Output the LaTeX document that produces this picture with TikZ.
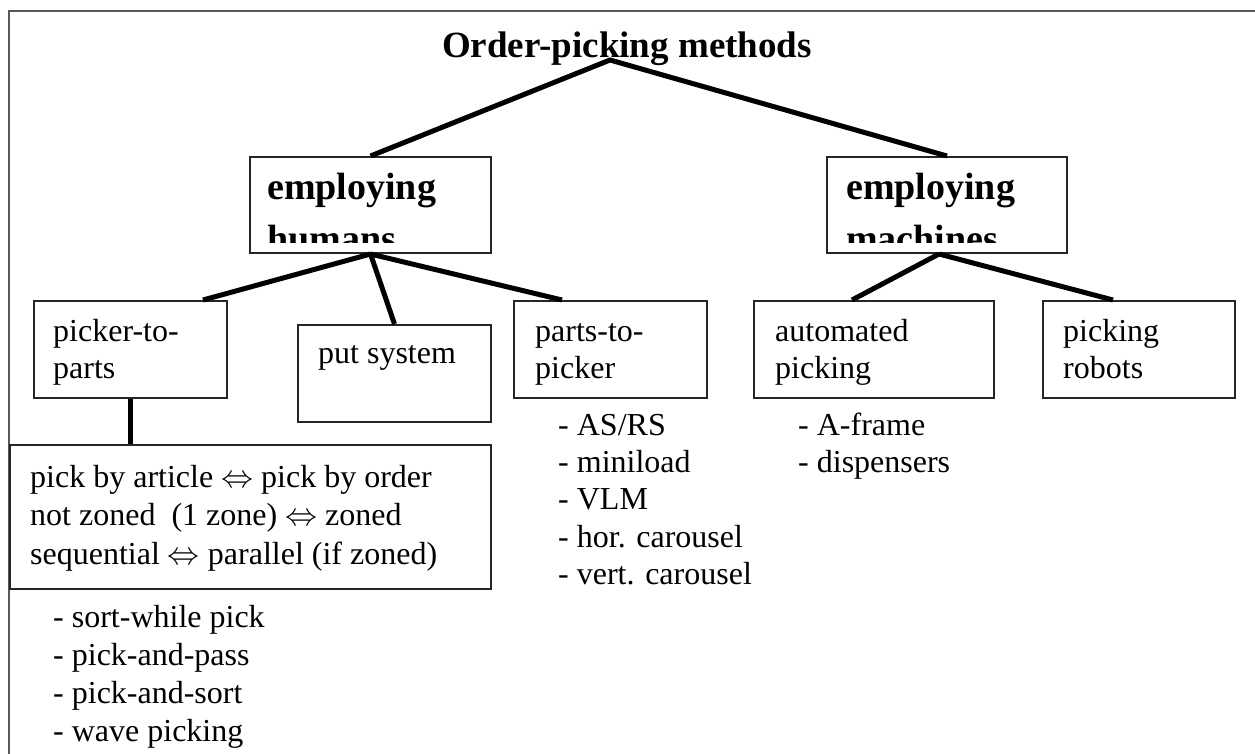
\RequirePackage{fix-cm}
\documentclass[tikz,border=0pt]{standalone}
\usepackage{fontspec}
\setmainfont{Liberation Serif}
\usetikzlibrary{calc}
\definecolor{boxcol}{gray}{0.15}
\definecolor{framecol}{gray}{0.35}
\tikzset{
  box/.style={draw=boxcol, line width=2pt, inner sep=0pt, rectangle, anchor=north west},
  conn/.style={line width=5pt, draw=black},
  frameline/.style={line width=2pt, draw=framecol},
  txt/.style={anchor=base west, inner sep=0pt, font=\fontsize{32}{38}\selectfont},
  btxt/.style={anchor=base west, inner sep=0pt, font=\fontsize{38}{46}\selectfont\bfseries},
}
\begin{document}
\begin{tikzpicture}[x=1pt, y=-1pt]
\useasboundingbox (0,0) rectangle (1255,754);
% outer frame (left and top edges)
\draw[frameline] (9,754) -- (9,11) -- (1255,11);

% title
\node[btxt, anchor=base, font=\fontsize{37}{44}\selectfont\bfseries] (title) at (627,58) {Order-picking methods};
\coordinate (apex) at (610,60);

% boxes
\node[box, minimum width=241pt, minimum height=96pt] (eh) at (249,156) {};
\node[box, minimum width=240pt, minimum height=96pt] (em) at (826,156) {};
\node[box, minimum width=193pt, minimum height=97pt] (ptp) at (33,300) {};
\node[box, minimum width=193pt, minimum height=97pt] (ps) at (297,324) {};
\node[box, minimum width=193pt, minimum height=97pt] (pkr) at (513,300) {};
\node[box, minimum width=240pt, minimum height=97pt] (ap) at (753,300) {};
\node[box, minimum width=192pt, minimum height=97pt] (pr) at (1042,300) {};
\node[box, minimum width=481pt, minimum height=144pt] (zb) at (9,444) {};

% clipped bold texts
\begin{scope}
  \clip (249,156) rectangle (490,242);
  \node[btxt] (eh1) at (267,200) {employing};
  \node[btxt] (eh2) at (267,251) {humans};
\end{scope}
\begin{scope}
  \clip (826,156) rectangle (1066,242);
  \node[btxt] (em1) at (846,200) {employing};
  \node[btxt] (em2) at (846,251) {machines};
\end{scope}

% box texts
\node[txt] (ptp1) at (53,341) {picker-to-};
\node[txt] (ptp2) at (53,378) {parts};
\node[txt] (ps1) at (318,363) {put system};
\node[txt] (pkr1) at (535,341) {parts-to-};
\node[txt] (pkr2) at (535,378) {picker};
\node[txt] (ap1) at (775,341) {automated};
\node[txt] (ap2) at (775,378) {picking};
\node[txt] (pr1) at (1063,341) {picking};
\node[txt] (pr2) at (1063,378) {robots};

\node[txt] (zb1) at (30,487) {pick by article $\Leftrightarrow$ pick by order};
\node[txt] (zb2) at (30,525.5) {not zoned\ \ (1 zone) $\Leftrightarrow$ zoned};
\node[txt] (zb3) at (30,564) {sequential $\Leftrightarrow$ parallel (if zoned)};

% lists
\node[txt] (l1) at (558,435) {- AS/RS};
\node[txt] (l2) at (558,472) {- miniload};
\node[txt] (l3) at (558,509.5) {- VLM};
\node[txt] (l4) at (558,547) {- hor. carousel};
\node[txt] (l5) at (558,584.5) {- vert. carousel};
\node[txt] (m1) at (798,435) {- A-frame};
\node[txt] (m2) at (798,472) {- dispensers};
\node[txt] (s1) at (53,627) {- sort-while pick};
\node[txt] (s2) at (53,665) {- pick-and-pass};
\node[txt] (s3) at (53,703) {- pick-and-sort};
\node[txt] (s4) at (53,741) {- wave picking};

% connectors
\draw[conn] (eh.north) -- (apex) -- (em.north);
\draw[conn] (eh.south) -- ($(ptp.north west)+(170,0)$);
\draw[conn] (eh.south) -- (ps.north);
\draw[conn] (eh.south) -- ($(pkr.north west)+(49,0)$);
\draw[conn] ($(em.south)+(-8,0)$) -- ($(ap.north west)+(99,0)$);
\draw[conn] ($(em.south)+(-8,0)$) -- ($(pr.north west)+(71,0)$);
\draw[conn] (ptp.south) -- (ptp.south |- zb.north);
\end{tikzpicture}
\end{document}
